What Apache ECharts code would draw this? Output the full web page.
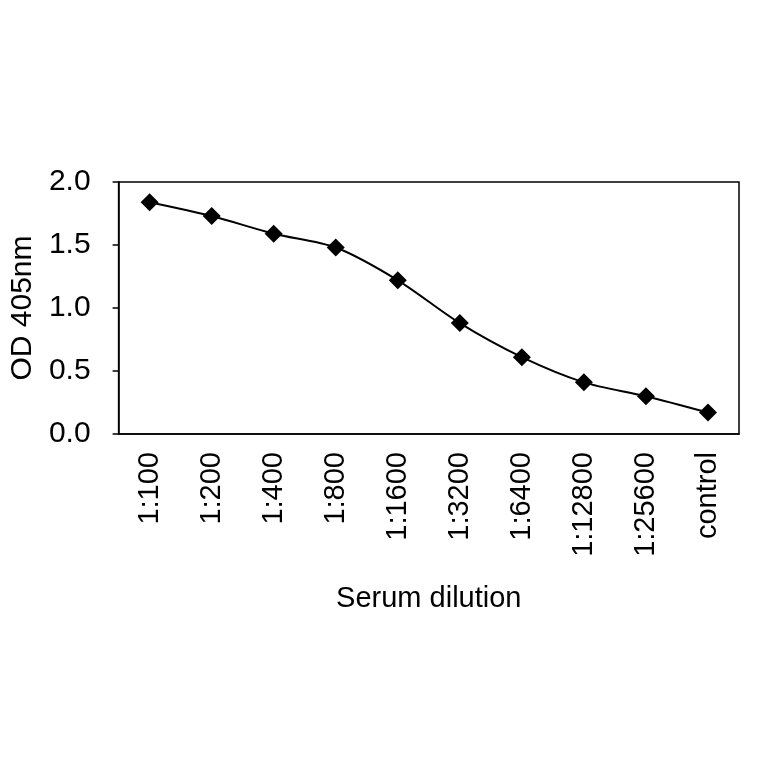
<!DOCTYPE html>
<html><head><meta charset="utf-8">
<script src="https://cdn.jsdelivr.net/npm/echarts@6/dist/echarts.min.js"></script>
<style>html,body{margin:0;padding:0;background:#fff}#c{width:764px;height:764px}</style>
</head><body><div id="c"></div>
<script>
const categories = ['1:100','1:200','1:400','1:800','1:1600','1:3200','1:6400','1:12800','1:25600','control'];
const odValues = [1.84, 1.73, 1.59, 1.48, 1.22, 0.88, 0.61, 0.41, 0.30, 0.17];
const yTicks = [0, 0.5, 1.0, 1.5, 2.0];

const chart = echarts.init(document.getElementById('c'));
const font = 'Liberation Sans, Arial, sans-serif';
chart.setOption({
  animation: false,
  grid: { left: 118, right: 25, top: 182, bottom: 330, show: true, borderColor: '#000', borderWidth: 1.5 },
  xAxis: {
    type: 'category', data: categories,
    name: 'Serum dilution', nameLocation: 'middle', nameGap: 150,
    nameTextStyle: { fontFamily: font, fontSize: 29, color: '#000' },
    axisLine: { lineStyle: { color: '#000', width: 1.5 } },
    axisTick: { inside: true, length: 6, lineStyle: { color: '#000', width: 1.5 } },
    axisLabel: { rotate: 90, fontFamily: font, fontSize: 29, color: '#000', margin: 18 }
  },
  yAxis: {
    type: 'value', min: 0, max: 2, interval: 0.5,
    name: 'OD 405nm', nameLocation: 'middle', nameGap: 76,
    nameTextStyle: { fontFamily: font, fontSize: 30, color: '#000' },
    axisLine: { show: true, lineStyle: { color: '#000', width: 1.5 } },
    axisTick: { show: true, length: 6, lineStyle: { color: '#000', width: 1.5 } },
    splitLine: { show: false },
    axisLabel: { fontFamily: font, fontSize: 30, color: '#000', margin: 28,
      formatter: v => yTicks.includes(v) ? v.toFixed(1) : '' }
  },
  series: [{
    type: 'line', data: odValues, smooth: 0.3,
    symbol: 'diamond', symbolSize: 18,
    lineStyle: { color: '#000', width: 2 },
    itemStyle: { color: '#000' }
  }]
});
</script></body></html>
